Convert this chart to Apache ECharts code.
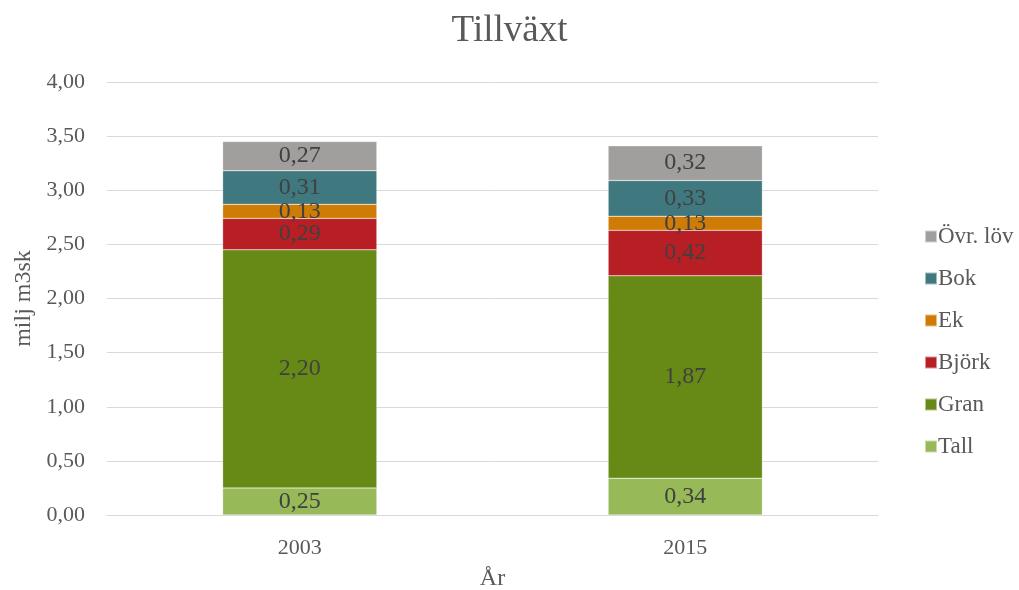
<!DOCTYPE html>
<html>
<head>
<meta charset="utf-8">
<script src="https://cdn.jsdelivr.net/npm/echarts@6/dist/echarts.min.js"></script>
<style>
  html, body { margin: 0; padding: 0; background: #fff; }
  #chart { width: 1019px; height: 590px; }
</style>
</head>
<body>
<div id="chart"></div>
<script>
// data
const years = ['2003', '2015']
const tall = [0.25, 0.34]
const gran = [2.20, 1.87]
const bjork = [0.29, 0.42]
const ek = [0.13, 0.13]
const bok = [0.31, 0.33]
const ovrLov = [0.27, 0.32]

const names = ['Tall', 'Gran', 'Björk', 'Ek', 'Bok', 'Övr. löv']
const values = [tall, gran, bjork, ek, bok, ovrLov]
const colors = ['#97B957', '#678A17', '#B81F24', '#CF7C07', '#40787F', '#A09F9E']

const font = 'Liberation Serif'
const fmt = v => v.toFixed(2).replace('.', ',')

const chart = echarts.init(document.getElementById('chart'))

const option = {
  animation: false,
  textStyle: { fontFamily: font },
  title: {
    text: 'Tillväxt',
    left: 'center',
    top: 8,
    textStyle: { fontFamily: font, fontSize: 37, fontWeight: 'normal', color: '#595959' }
  },
  legend: {
    orient: 'vertical',
    left: 919,
    top: 220,
    itemWidth: 12,
    itemHeight: 12,
    itemGap: 19,
    icon: 'rect',
    data: names.slice().reverse(),
    textStyle: { fontFamily: font, fontSize: 23, color: '#595959', padding: [0, 0, 0, -4] }
  },
  grid: { left: 107, right: 141, top: 82, bottom: 75, outerBoundsMode: 'none' },
  xAxis: {
    type: 'category',
    data: years,
    name: 'År',
    nameLocation: 'middle',
    nameGap: 52,
    nameTextStyle: { fontFamily: font, fontSize: 24, color: '#595959' },
    axisLine: { lineStyle: { color: '#D9D9D9' } },
    axisTick: { show: false },
    axisLabel: { fontFamily: font, fontSize: 22, color: '#595959', margin: 22 }
  },
  yAxis: {
    type: 'value',
    min: 0,
    max: 4,
    interval: 0.5,
    name: 'milj m3sk',
    nameLocation: 'middle',
    nameGap: 70,
    nameTextStyle: { fontFamily: font, fontSize: 24, color: '#595959' },
    axisLine: { show: false },
    axisTick: { show: false },
    splitLine: { lineStyle: { color: '#D9D9D9' } },
    axisLabel: { fontFamily: font, fontSize: 22, color: '#595959', margin: 22, formatter: v => fmt(v) }
  },
  series: names.map((n, i) => ({
    name: n,
    type: 'bar',
    stack: 'total',
    barWidth: '40%',
    data: values[i],
    itemStyle: { color: colors[i], borderColor: 'rgba(255,255,255,0.5)', borderWidth: 0.5 },
    label: {
      show: true,
      position: 'inside',
      fontFamily: font,
      fontSize: 24,
      color: '#404040',
      formatter: p => fmt(p.value)
    }
  }))
}

chart.setOption(option)
</script>
</body>
</html>
